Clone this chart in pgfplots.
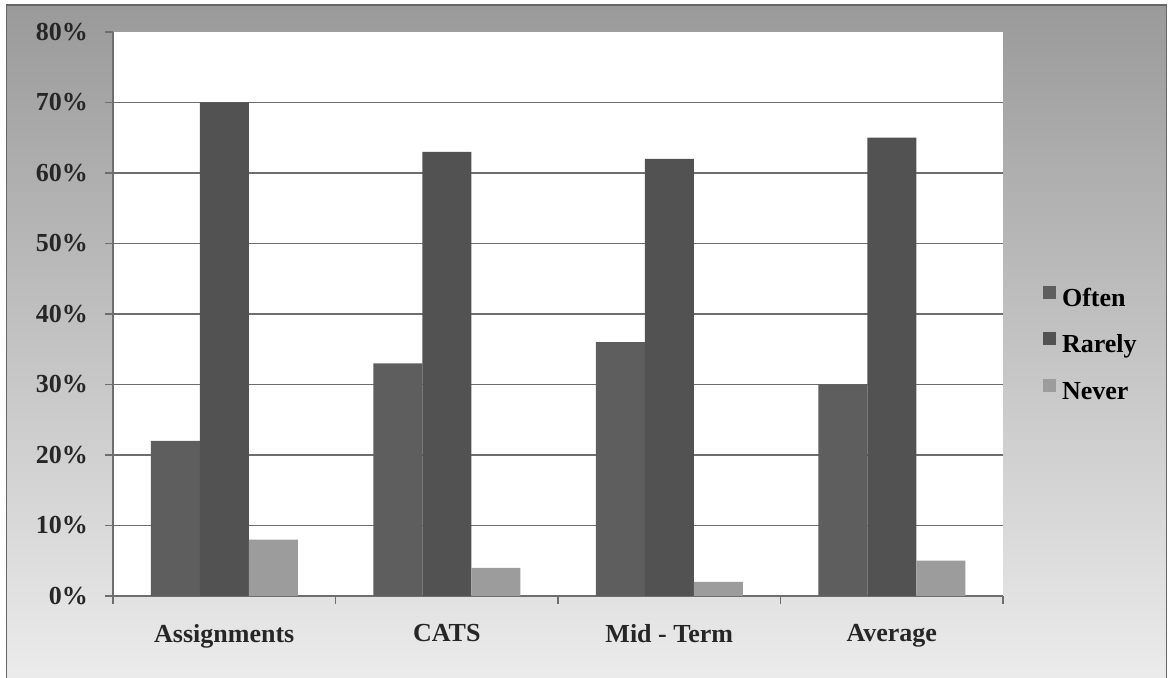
\documentclass[border=0pt]{standalone}
\usepackage{pgfplots}
\pgfplotsset{compat=1.18}
\usepackage{fontspec}
\setmainfont{Liberation Serif}
\definecolor{often}{HTML}{5E5E5E}
\definecolor{rarely}{HTML}{525252}
\definecolor{never}{HTML}{9C9C9C}
\definecolor{bgdark}{HTML}{9A9A9A}
\definecolor{bgmid}{HTML}{B6B6B6}
\definecolor{bglight}{HTML}{ECECEC}
\definecolor{gridc}{HTML}{6E6E6E}
\begin{document}
\begin{tikzpicture}[x=1pt,y=1pt]
\useasboundingbox (0,0) rectangle (585.5,339);
\shade[top color=bgdark, middle color=bgmid, bottom color=bglight] (3.3,-2) rectangle (583.3,336.5);
\draw[color=black!60, line width=0.6pt] (3.3,-2) rectangle (583.3,336.5);
\begin{axis}[
  at={(56.5pt,41pt)}, anchor=south west,
  width=445pt, height=282pt, scale only axis,
  axis background/.style={fill=white},
  ybar=0pt, bar width=24.5pt,
  xmin=-0.5, xmax=3.5, ymin=0, ymax=80,
  xtick={0,1,2,3},
  xticklabels={Assignments,CATS,Mid - Term,Average},
  major x tick style={draw=none},
  minor xtick={-0.5,0.5,1.5,2.5,3.5},
  minor tick length=4pt,
  ytick={0,10,...,70},
  yticklabels={0\%,10\%,20\%,30\%,40\%,50\%,60\%,70\%},
  extra y ticks={80}, extra y tick labels={80\%},
  extra y tick style={grid=none},
  ymajorgrids,
  grid style={color=gridc, line width=0.8pt},
  axis x line*=bottom, axis y line*=left,
  axis line style={color=gridc, line width=0.8pt},
  tick style={color=gridc, line width=0.8pt},
  tick align=outside, major tick length=4pt,
  xticklabel style={font=\bfseries\fontsize{13}{15}\selectfont, text=black!85, yshift=-6.5pt},
  yticklabel style={font=\bfseries\fontsize{13}{15}\selectfont, text=black!85, xshift=-5pt},
  legend style={at={(1.045,0.55)}, anchor=north west, draw=none, fill=none,
    inner sep=0pt, outer sep=0pt,
    nodes={inner sep=0pt, text height=9.5pt, text depth=3pt},
    font=\bfseries\fontsize{13}{15}\selectfont, row sep=10pt},
  legend cell align=left,
  legend image code/.code={\fill[#1] (0pt,0.5pt) rectangle (6.5pt,7pt); \path (9.5pt,0pt);},
]
\addplot[fill=often, draw=none] coordinates {(0,22) (1,33) (2,36) (3,30)};
\addplot[fill=rarely, draw=none] coordinates {(0,70) (1,63) (2,62) (3,65)};
\addplot[fill=never, draw=none] coordinates {(0,8) (1,4) (2,2) (3,5)};
\legend{Often,Rarely,Never}
\end{axis}
\end{tikzpicture}
\end{document}
